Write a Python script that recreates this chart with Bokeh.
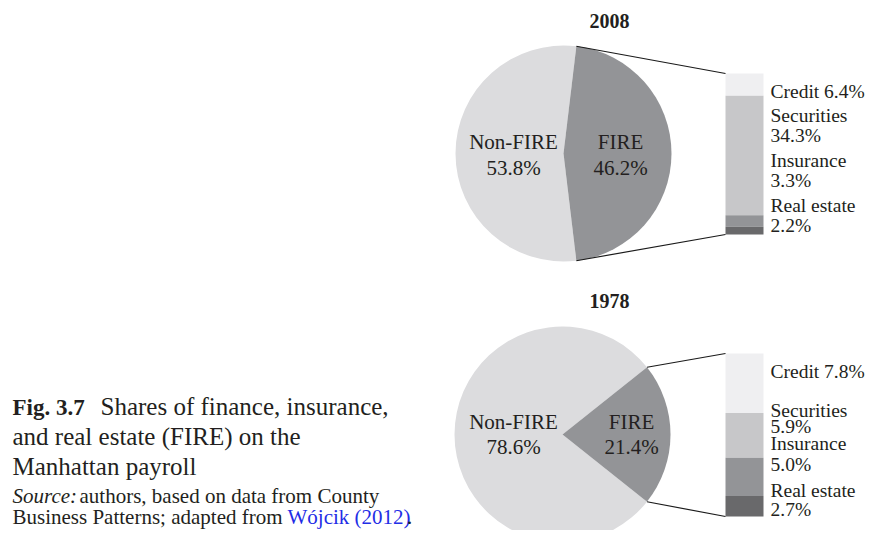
import math
from bokeh.plotting import figure
from bokeh.models import Range1d
from bokeh.embed import file_html
from bokeh.resources import INLINE
from bokeh.core.properties import value

# ---------------- data ----------------
years = ["2008", "1978"]
fire_share = [46.2, 21.4]
nonfire_share = [53.8, 78.6]
pie_labels = ["Non-FIRE", "FIRE"]
sub_categories = ["Credit", "Securities", "Insurance", "Real estate"]
sub_2008 = [6.4, 34.3, 3.3, 2.2]
sub_1978 = [7.8, 5.9, 5.0, 2.7]
sub_values = [sub_2008, sub_1978]

caption_bold = "Fig. 3.7"
caption_lines = ["Shares of finance, insurance,", "and real estate (FIRE) on the", "Manhattan payroll"]

# ---------------- layout (pixel coordinates from top-left) ----------------
W, H = 865, 530
def Y(y):
    return H - y

FONT = value("Liberation Serif")
TXT = "#231f20"
C_NONFIRE = "#dcdcde"
C_FIRE = "#939497"
C_SUB = ["#efeff1", "#c7c7c9", "#939497", "#69696b"]

pie_cx = [563, 562]
pie_cy = [153, 434]
pie_r = 108
bar_x0, bar_x1 = 725, 763
bar_top = [73, 353]
bar_h = [161, 163]
title_pos = [(609, 27.5), (609, 307.5)]
pie_lbl_x = [(513, 620), (513, 631)]
pie_lbl_y = [(149, 175), (429, 454)]
sub_lbl_x = 770
sub_lbl_y = [[(98.3,), (121.7, 142.3), (166.7, 186.7), (211.7, 232.3)],
             [(378,), (416.7, 433), (450, 470.7), (496.7, 515.7)]]
BASE_SHIFT = 0.35  # text sits this fraction of its size below the anchor in the svg output

p = figure(width=W, height=H, x_range=Range1d(0, W), y_range=Range1d(0, H),
           output_backend="svg", toolbar_location=None, min_border=0,
           x_axis_location=None, y_axis_location=None, title=None)
p.grid.visible = False
p.outline_line_color = None
p.background_fill_color = "white"
p.border_fill_color = "white"

def txt(xs, ys, texts, size, align="left", style="normal", color=TXT):
    px = float(size.replace("px", ""))
    p.text(x=xs, y=[Y(v - BASE_SHIFT * px) for v in ys], text=texts, text_font=FONT,
           text_font_size=value(size), text_align=align, text_baseline="alphabetic",
           text_font_style=style, text_color=color)

for i, yr in enumerate(years):
    cx, cy = pie_cx[i], Y(pie_cy[i])
    half = fire_share[i] / 100.0 * math.pi  # half angle of FIRE wedge
    # pie
    p.wedge(x=[cx, cx], y=[cy, cy], radius=pie_r,
            start_angle=[half, -half], end_angle=[2 * math.pi - half, half],
            fill_color=[C_NONFIRE, C_FIRE], line_color=None)
    # bar of FIRE breakdown
    vals = sub_values[i]
    total = sum(vals)
    scale = bar_h[i] / total
    tops, bottoms = [], []
    acc = bar_top[i]
    for v in vals:
        tops.append(Y(acc))
        acc += v * scale
        bottoms.append(Y(acc))
    p.quad(left=bar_x0, right=bar_x1, top=tops, bottom=bottoms,
           fill_color=C_SUB, line_color=None)
    # connector lines
    ex = cx + pie_r * math.cos(half)
    ey_top = cy + pie_r * math.sin(half)
    ey_bot = cy - pie_r * math.sin(half)
    p.segment(x0=[ex, ex], y0=[ey_top, ey_bot], x1=[bar_x0, bar_x0],
              y1=[tops[0], bottoms[-1]], line_color="#1a1a1a", line_width=1.2)
    # title
    txt([title_pos[i][0]], [title_pos[i][1]], [yr], "20px", align="center", style="bold")
    # pie labels
    lx = pie_lbl_x[i]
    ly = pie_lbl_y[i]
    txt([lx[0], lx[0]], [ly[0], ly[1]], [pie_labels[0], f"{nonfire_share[i]:.1f}%"], "21px", align="center")
    txt([lx[1], lx[1]], [ly[0], ly[1]], [pie_labels[1], f"{fire_share[i]:.1f}%"], "21px", align="center")
    # bar labels
    for k, cat in enumerate(sub_categories):
        ys = sub_lbl_y[i][k]
        if len(ys) == 1:
            txt([sub_lbl_x], [ys[0]], [f"{cat} {vals[k]:.1f}%"], "19.5px")
        else:
            txt([sub_lbl_x, sub_lbl_x], [ys[0], ys[1]], [cat, f"{vals[k]:.1f}%"], "19.5px")

# caption
txt([12], [415], [caption_bold], "23px", style="bold")
txt([100], [415], [caption_lines[0]], "25px")
txt([12, 12], [445, 475], caption_lines[1:], "25px")
txt([12], [503], ["Source:"], "21px", style="italic")
txt([79], [503], ["authors, based on data from County"], "21px")
txt([12], [524], ["Business Patterns; adapted from"], "21px")
txt([287], [524], ["Wójcik (2012)"], "21px", color="#1f2ee6")
txt([406.5], [524], ["."], "21px")

open("out.html", "w").write(file_html(p, INLINE))
